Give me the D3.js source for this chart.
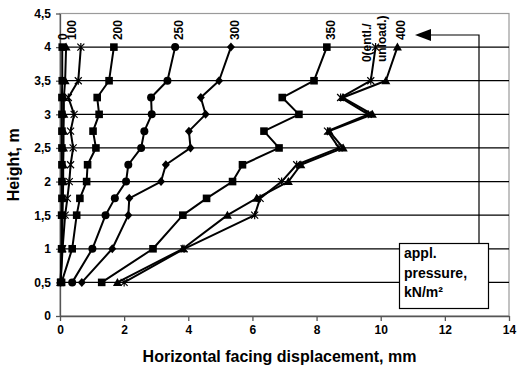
<!DOCTYPE html>
<html>
<head>
<meta charset="utf-8">
<script src="https://cdn.jsdelivr.net/npm/d3@7.9.0/dist/d3.min.js"></script>
<style>
  body { margin: 0; background: #fff; }
  svg { display: block; font-family: Arial, 'Liberation Sans', sans-serif; font-weight: bold; }
</style>
</head>
<body>
<svg id="chart" width="517" height="367"></svg>
<script>
// heights of the measuring points, m
const heights = [0.5, 1, 1.5, 1.75, 2, 2.25, 2.5, 2.75, 3, 3.25, 3.5, 4];

// horizontal facing displacement (mm) per applied pressure step
const p0 = [0.02, 0.05, 0.05, 0.06, 0.06, 0.06, 0.06, 0.06, 0.06, 0.06, 0.07, 0.07];
const p100 = [0.02, 0.06, 0.08, 0.09, 0.1, 0.1, 0.11, 0.11, 0.12, 0.12, 0.16, 0.19];
const p150 = [0.02, 0.08, 0.16, 0.23, 0.29, 0.33, 0.41, 0.33, 0.44, 0.26, 0.57, 0.65];
const p200 = [0.05, 0.38, 0.52, 0.62, 0.83, 0.86, 1.12, 1.03, 1.22, 1.16, 1.53, 1.68];
const p250 = [0.38, 1.01, 1.42, 1.71, 2.06, 2.13, 2.53, 2.63, 2.86, 2.84, 3.35, 3.59];
const p300 = [0.68, 1.63, 2.13, 2.16, 3.15, 3.3, 4.07, 4.02, 4.54, 4.39, 4.96, 5.33];
const p350 = [1.3, 2.9, 3.83, 4.57, 5.38, 5.69, 6.83, 6.36, 7.45, 6.93, 7.92, 8.32];
const p400 = [1.79, 3.83, 5.22, 6.13, 7.12, 7.51, 8.83, 8.39, 9.74, 8.82, 10.16, 10.52];
const unload = [2.0, 3.87, 6.07, 6.24, 6.91, 7.38, 8.7, 8.34, 9.61, 8.75, 9.69, 9.84];

const xTicks = [0, 2, 4, 6, 8, 10, 12, 14];
const yTicks = [0, 0.5, 1, 1.5, 2, 2.5, 3, 3.5, 4, 4.5];

const series = [
  { values: p0, marker: 'square', label: ['0'], dx: -3 },
  { values: p100, marker: 'triangle', label: ['100'], dx: 2 },
  { values: p150, marker: 'star', label: [] },
  { values: p200, marker: 'square', label: ['200'], dx: 0 },
  { values: p250, marker: 'circle', label: ['250'], dx: 0 },
  { values: p300, marker: 'diamond', label: ['300'], dx: 0 },
  { values: p350, marker: 'square', label: ['350'], dx: 0 },
  { values: unload, marker: 'star', label: ['0(entl./', 'unload.)'], dx: -13, dy: 22 },
  { values: p400, marker: 'triangle', label: ['400'], dx: 0 }
];

const svg = d3.select('#chart');
const mLeft = 60, mRight = 509, mTop = 13.5, mBottom = 316;

const x = d3.scaleLinear().domain([0, 14]).range([mLeft, mRight]);
const y = d3.scaleLinear().domain([0, 4.5]).range([mBottom, mTop]);

// plot frame
svg.append('rect')
  .attr('x', mLeft).attr('y', mTop)
  .attr('width', mRight - mLeft).attr('height', mBottom - mTop)
  .attr('fill', 'none').attr('stroke', '#9a9a9a').attr('stroke-width', 1.2);

// horizontal gridlines
svg.append('g')
  .selectAll('line')
  .data(yTicks.filter(d => d > 0 && d < 4.5))
  .join('line')
  .attr('x1', mLeft).attr('x2', mRight)
  .attr('y1', d => y(d)).attr('y2', d => y(d))
  .attr('stroke', '#000').attr('stroke-width', 1.2);

// axes
const xAxis = svg.append('g')
  .attr('transform', `translate(0,${mBottom})`)
  .call(d3.axisBottom(x).tickValues(xTicks).tickSize(5).tickPadding(4).tickSizeOuter(0));
const yAxis = svg.append('g')
  .attr('transform', `translate(${mLeft},0)`)
  .call(d3.axisLeft(y).tickValues(yTicks).tickSize(4).tickPadding(5).tickSizeOuter(0)
    .tickFormat(d => String(d).replace('.', ',')));

[xAxis, yAxis].forEach(a => {
  a.selectAll('path, line').attr('stroke', '#555').attr('stroke-width', 1.3);
  a.selectAll('text').attr('font-size', 12).attr('font-weight', 'bold')
    .attr('font-family', 'Arial, Liberation Sans, sans-serif').attr('fill', '#000');
});

// axis titles
svg.append('text')
  .attr('x', (mLeft + mRight) / 2 - 5).attr('y', 362)
  .attr('text-anchor', 'middle').attr('font-size', 16)
  .text('Horizontal facing displacement, mm');
svg.append('text')
  .attr('transform', `translate(19,${(mTop + mBottom) / 2}) rotate(-90)`)
  .attr('text-anchor', 'middle').attr('font-size', 16)
  .text('Height, m');

// markers
function drawMarker(g, type, cx, cy) {
  if (type === 'square') {
    g.append('rect').attr('x', cx - 3.8).attr('y', cy - 3.8).attr('width', 7.6).attr('height', 7.6).attr('fill', '#000');
  } else if (type === 'circle') {
    g.append('circle').attr('cx', cx).attr('cy', cy).attr('r', 4).attr('fill', '#000');
  } else if (type === 'diamond') {
    g.append('path').attr('d', `M${cx},${cy - 4.5}L${cx + 4},${cy}L${cx},${cy + 4.5}L${cx - 4},${cy}Z`).attr('fill', '#000');
  } else if (type === 'triangle') {
    g.append('path').attr('d', `M${cx},${cy - 4.5}L${cx + 4.5},${cy + 3.5}L${cx - 4.5},${cy + 3.5}Z`).attr('fill', '#000');
  } else if (type === 'star') {
    g.append('path')
      .attr('d', `M${cx - 3.5},${cy - 3.5}L${cx + 3.5},${cy + 3.5}M${cx - 3.5},${cy + 3.5}L${cx + 3.5},${cy - 3.5}M${cx},${cy - 4}L${cx},${cy + 4}`)
      .attr('stroke', '#000').attr('stroke-width', 1.2);
  }
}

const line = d3.line().x(d => x(d[0])).y(d => y(d[1]));

series.forEach(s => {
  const pts = s.values.map((v, i) => [v, heights[i]]);
  const g = svg.append('g');
  g.append('path').attr('d', line(pts))
    .attr('fill', 'none').attr('stroke', '#000').attr('stroke-width', 2).attr('stroke-linejoin', 'round');
  pts.forEach(p => drawMarker(g, s.marker, x(p[0]), y(p[1])));

  // rotated series label above top point
  const last = pts[pts.length - 1];
  const lx = x(last[0]) + (s.dx || 0) + 8;
  const ly = y(last[1]) - 7 + (s.dy || 0);
  s.label.forEach((t, k) => {
    svg.append('text')
      .attr('transform', `translate(${lx + k * 15},${ly}) rotate(-90)`)
      .attr('font-size', 12)
      .text(t);
  });
});

// legend box with arrow pointer
svg.append('path')
  .attr('d', `M430,35H479V243`)
  .attr('fill', 'none').attr('stroke', '#000').attr('stroke-width', 1.2);
svg.append('path')
  .attr('d', 'M415,35L431,29L431,41Z')
  .attr('fill', '#000');
svg.append('rect')
  .attr('x', 399.5).attr('y', 243.5).attr('width', 89).attr('height', 65)
  .attr('fill', '#fff').attr('stroke', '#000').attr('stroke-width', 1.2);
['appl.', 'pressure,', 'kN/m²'].forEach((t, i) => {
  svg.append('text')
    .attr('x', 404).attr('y', 258 + i * 19.5)
    .attr('font-size', 14)
    .text(t);
});
</script>
</body>
</html>
